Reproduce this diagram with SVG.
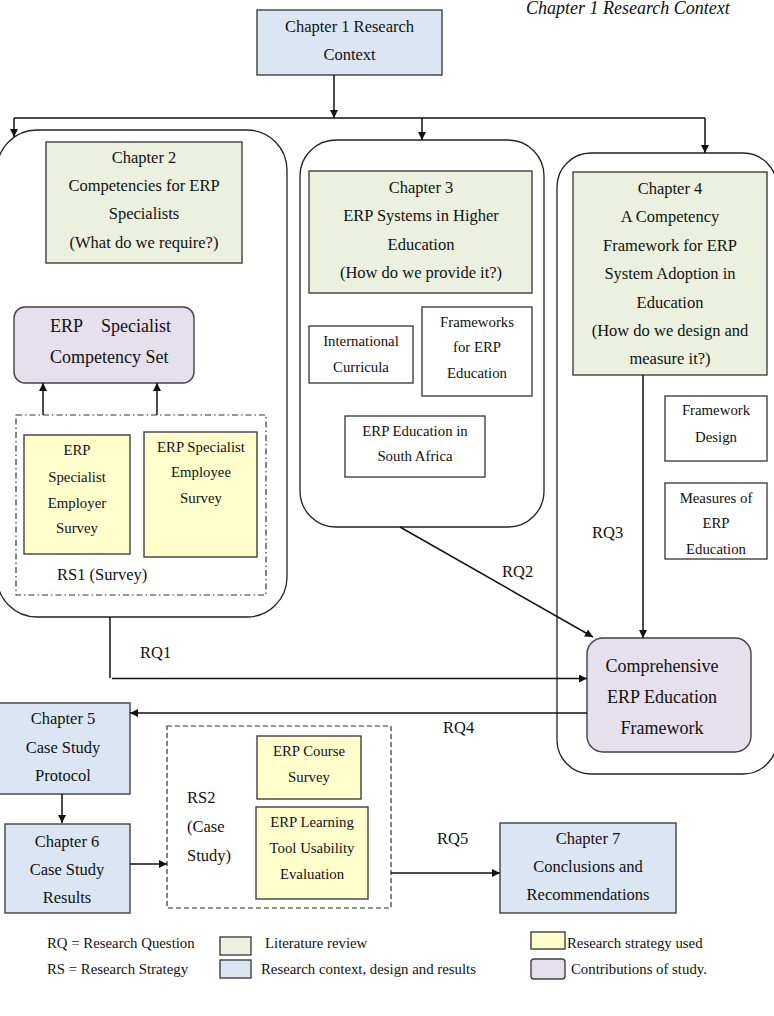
<svg xmlns="http://www.w3.org/2000/svg" width="774" height="1016" viewBox="0 0 774 1016">
<style>
text{font-family:"Liberation Serif","Times New Roman",serif;fill:#111}
.c{text-anchor:middle}
.t16{font-size:16.5px}
.t15{font-size:14.8px}
.t18{font-size:18px}
.cont{fill:#fff;stroke:#222;stroke-width:1.3}
.blue{fill:#dce6f2;stroke:#404040;stroke-width:1.4}
.green{fill:#ebf1de;stroke:#404040;stroke-width:1.4}
.yellow{fill:#ffffcc;stroke:#404040;stroke-width:1.4}
.lav{fill:#e5e0ec;stroke:#404040;stroke-width:1.4}
.white{fill:#fff;stroke:#333;stroke-width:1.3}
.ln{fill:none;stroke:#111;stroke-width:1.5}
.arr{marker-end:url(#ah)}
</style>
<defs>
<marker id="ah" viewBox="0 0 10 10" refX="10" refY="5" markerWidth="9" markerHeight="8" markerUnits="userSpaceOnUse" orient="auto">
<path d="M0,0 L10,5 L0,10 z" fill="#111"/>
</marker>
</defs>
<rect width="774" height="1016" fill="#fff"/>

<text x="526" y="14" font-size="18" font-style="italic">Chapter 1 Research Context</text>

<!-- containers -->
<g id="container-ch2"><rect class="cont" x="-3" y="130" width="290" height="487" rx="40"/></g>
<g id="container-ch3"><rect class="cont" x="300" y="140" width="244" height="387" rx="36"/></g>
<g id="container-ch4"><rect class="cont" x="557" y="153" width="220" height="621" rx="34"/></g>

<g id="ch1">
<rect class="blue" x="257" y="10" width="185" height="65"/>
<text class="c t16" x="349.5" y="32">Chapter 1 Research</text>
<text class="c t16" x="349.5" y="60">Context</text>
</g>

<g id="ch2">
<rect class="green" x="46" y="142" width="196" height="121"/>
<text class="c t16" x="144" y="163">Chapter 2</text>
<text class="c t16" x="144" y="191">Competencies for ERP</text>
<text class="c t16" x="144" y="219">Specialists</text>
<text class="c t16" x="144" y="248">(What do we require?)</text>
</g>

<g id="competency-set">
<rect class="lav" x="14" y="307" width="180" height="76" rx="11"/>
<text class="t18" x="50" y="332">ERP</text>
<text class="t18" x="101" y="332">Specialist</text>
<text class="t18" x="50" y="363">Competency Set</text>
</g>

<g id="rs1">
<rect x="16" y="415" width="250" height="180" fill="none" stroke="#333" stroke-width="1.2" stroke-dasharray="6,3,1.5,3"/>
<text class="t16" x="57" y="580">RS1 (Survey)</text>
</g>

<g id="employer-survey">
<rect class="yellow" x="24" y="435" width="106" height="119"/>
<text class="c t15" x="77" y="455">ERP</text>
<text class="c t15" x="77" y="482">Specialist</text>
<text class="c t15" x="77" y="508">Employer</text>
<text class="c t15" x="77" y="533">Survey</text>
</g>

<g id="employee-survey">
<rect class="yellow" x="144" y="432" width="113" height="125"/>
<text class="c t15" x="201" y="452">ERP Specialist</text>
<text class="c t15" x="201" y="477">Employee</text>
<text class="c t15" x="201" y="503">Survey</text>
</g>

<g id="ch3">
<rect class="green" x="309" y="171" width="223" height="122"/>
<text class="c t16" x="421" y="193">Chapter 3</text>
<text class="c t16" x="421" y="221">ERP Systems in Higher</text>
<text class="c t16" x="421" y="250">Education</text>
<text class="c t16" x="421" y="278">(How do we provide it?)</text>
</g>

<g id="intl-curricula">
<rect class="white" x="309" y="326" width="104" height="57"/>
<text class="c t15" x="361" y="346">International</text>
<text class="c t15" x="361" y="372">Curricula</text>
</g>

<g id="frameworks-erp">
<rect class="white" x="422" y="307" width="110" height="89"/>
<text class="c t15" x="477" y="327">Frameworks</text>
<text class="c t15" x="477" y="352">for ERP</text>
<text class="c t15" x="477" y="378">Education</text>
</g>

<g id="erp-sa">
<rect class="white" x="345" y="416" width="140" height="61"/>
<text class="c t15" x="415" y="436">ERP Education in</text>
<text class="c t15" x="415" y="461">South Africa</text>
</g>

<g id="ch4">
<rect class="green" x="573" y="172" width="194" height="203"/>
<text class="c t16" x="670" y="194">Chapter 4</text>
<text class="c t16" x="670" y="222">A Competency</text>
<text class="c t16" x="670" y="251">Framework for ERP</text>
<text class="c t16" x="670" y="279">System Adoption in</text>
<text class="c t16" x="670" y="308">Education</text>
<text class="c t16" x="670" y="336">(How do we design and</text>
<text class="c t16" x="670" y="364">measure it?)</text>
</g>

<g id="framework-design">
<rect class="white" x="665" y="396" width="102" height="65"/>
<text class="c t15" x="716" y="415">Framework</text>
<text class="c t15" x="716" y="442">Design</text>
</g>

<g id="measures">
<rect class="white" x="665" y="483" width="102" height="76"/>
<text class="c t15" x="716" y="503">Measures of</text>
<text class="c t15" x="716" y="528">ERP</text>
<text class="c t15" x="716" y="554">Education</text>
</g>

<g id="comprehensive">
<rect class="lav" x="587" y="638" width="164" height="114" rx="16"/>
<text class="c t18" x="662" y="672">Comprehensive</text>
<text class="c t18" x="662" y="703">ERP Education</text>
<text class="c t18" x="662" y="734">Framework</text>
</g>

<g id="ch5">
<rect class="blue" x="-1" y="703" width="131" height="91"/>
<text class="c t16" x="63" y="724">Chapter 5</text>
<text class="c t16" x="63" y="753">Case Study</text>
<text class="c t16" x="63" y="781">Protocol</text>
</g>

<g id="ch6">
<rect class="blue" x="5" y="824" width="125" height="89"/>
<text class="c t16" x="67" y="847">Chapter 6</text>
<text class="c t16" x="67" y="875">Case Study</text>
<text class="c t16" x="67" y="903">Results</text>
</g>

<g id="rs2">
<rect x="167" y="726" width="224" height="182" fill="none" stroke="#333" stroke-width="1.2" stroke-dasharray="5,3"/>
<text class="t16" x="187" y="803">RS2</text>
<text class="t16" x="187" y="832">(Case</text>
<text class="t16" x="187" y="861">Study)</text>
</g>

<g id="course-survey">
<rect class="yellow" x="257" y="736" width="104" height="63"/>
<text class="c t15" x="309" y="756">ERP Course</text>
<text class="c t15" x="309" y="782">Survey</text>
</g>

<g id="usability">
<rect class="yellow" x="256" y="807" width="112" height="92"/>
<text class="c t15" x="312" y="827">ERP Learning</text>
<text class="c t15" x="312" y="853">Tool Usability</text>
<text class="c t15" x="312" y="879">Evaluation</text>
</g>

<g id="ch7">
<rect class="blue" x="500" y="823" width="176" height="90"/>
<text class="c t16" x="588" y="844">Chapter 7</text>
<text class="c t16" x="588" y="872">Conclusions and</text>
<text class="c t16" x="588" y="900">Recommendations</text>
</g>

<g id="connectors">
<path class="ln arr" d="M334,75 V118"/>
<path class="ln" d="M14,118 H705"/>
<path class="ln arr" d="M14,118 V137"/>
<path class="ln arr" d="M422,118 V140"/>
<path class="ln arr" d="M705,118 V153"/>
<path class="ln arr" d="M43,415 V383"/>
<path class="ln arr" d="M157,415 V383"/>
<path class="ln" d="M110,617 V678"/>
<path class="ln arr" d="M112,678.5 H587"/>
<path class="ln arr" d="M400,527 L593,637"/>
<path class="ln arr" d="M643,375 V638"/>
<path class="ln arr" d="M587,713 H130"/>
<path class="ln arr" d="M62,794 V823"/>
<path class="ln arr" d="M130,864 H167"/>
<path class="ln arr" d="M391,873 H500"/>
<text class="t16" x="140" y="658">RQ1</text>
<text class="t16" x="502" y="577">RQ2</text>
<text class="t16" x="592" y="538">RQ3</text>
<text class="t16" x="443" y="733">RQ4</text>
<text class="t16" x="437" y="844">RQ5</text>
</g>

<g id="legend">
<text class="t15" x="47" y="948">RQ = Research Question</text>
<text class="t15" x="47" y="974">RS = Research Strategy</text>
<rect class="green" x="220" y="937" width="31" height="18"/>
<text class="t15" x="265" y="948">Literature review</text>
<rect class="blue" x="220" y="960" width="31" height="18"/>
<text class="t15" x="261" y="974">Research context, design and results</text>
<rect class="yellow" x="531" y="932" width="34" height="17"/>
<text class="t15" x="567" y="948">Research strategy used</text>
<rect class="lav" x="531" y="959" width="34" height="20" rx="3"/>
<text class="t15" x="571" y="974">Contributions of study.</text>
</g>
</svg>
